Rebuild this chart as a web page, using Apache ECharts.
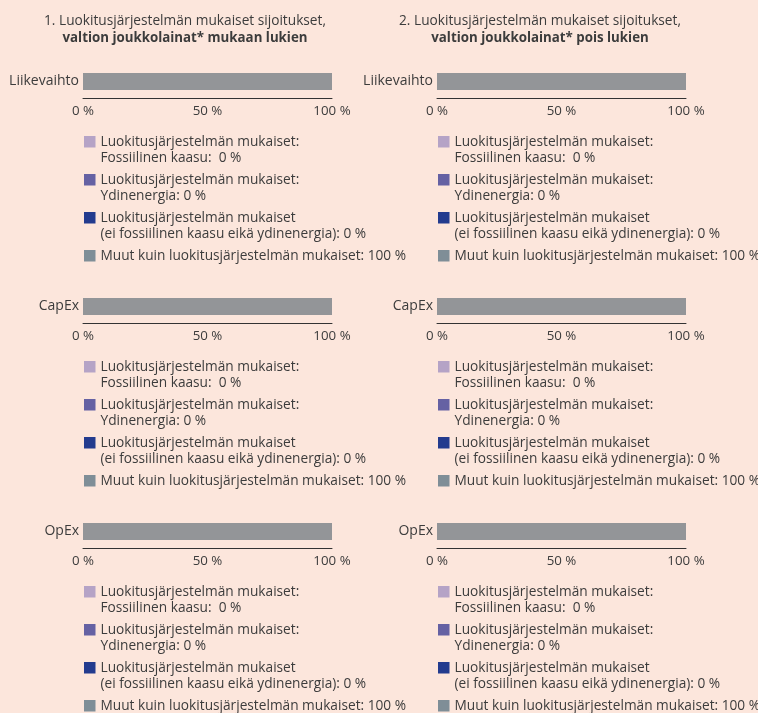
<!DOCTYPE html>
<html><head><meta charset="utf-8">
<script src="https://cdn.jsdelivr.net/npm/echarts@6/dist/echarts.min.js"></script>
<style>html,body{margin:0;padding:0;background:#fce6dc;}#c{width:758px;height:713px;}</style>
</head><body><div id="c"></div>
<script>
const panelTitles = ['1. Luokitusjärjestelmän mukaiset sijoitukset,', '2. Luokitusjärjestelmän mukaiset sijoitukset,'];
const panelSubtitles = ['valtion joukkolainat* mukaan lukien', 'valtion joukkolainat* pois lukien'];
const kpis = ['Liikevaihto', 'CapEx', 'OpEx'];
const xTicks = [0, 50, 100];
// panel 1: including sovereign bonds
const fossilGasIncl = [0, 0, 0];
const nuclearIncl = [0, 0, 0];
const otherAlignedIncl = [0, 0, 0];
const notAlignedIncl = [100, 100, 100];
// panel 2: excluding sovereign bonds
const fossilGasExcl = [0, 0, 0];
const nuclearExcl = [0, 0, 0];
const otherAlignedExcl = [0, 0, 0];
const notAlignedExcl = [100, 100, 100];
const seriesLabels = [
  ['Luokitusjärjestelmän mukaiset:', 'Fossiilinen kaasu:  '],
  ['Luokitusjärjestelmän mukaiset:', 'Ydinenergia: '],
  ['Luokitusjärjestelmän mukaiset', '(ei fossiilinen kaasu eikä ydinenergia): '],
  ['', 'Muut kuin luokitusjärjestelmän mukaiset: ']
];

const barColors = ['#b5a3c6', '#6561a3', '#233b8e', '#939598'];
const legendColors = ['#b5a3c6', '#6561a3', '#233b8e', '#7f8e97'];
const panelData = [
  [fossilGasIncl, nuclearIncl, otherAlignedIncl, notAlignedIncl],
  [fossilGasExcl, nuclearExcl, otherAlignedExcl, notAlignedExcl]
];
const panelLeft = [83, 437];
const titleCenter = [185, 540];
const rowStep = 225;
const font = 'Open Sans';
const textColor = '#3c3c3c';

const grids = [], xAxes = [], yAxes = [], series = [], legends = [], titles = [];
const nameText = {};
const iconPath = 'path://M0,2 L11.5,2 L11.5,13.5 L0,13.5 Z M0,0 L0.01,0 L0.01,0.01 Z M0,32 L0.01,32 L0.01,31.99 Z';

for (let p = 0; p < 2; p++) {
  titles.push({
    text: panelTitles[p] + '\n{b|' + panelSubtitles[p] + '}',
    left: titleCenter[p],
    top: 13,
    padding: 0,
    textAlign: 'center',
    textStyle: {fontFamily: font, fontSize: 13.7, fontWeight: 'normal', color: textColor, lineHeight: 17,
      rich: {b: {fontFamily: font, fontSize: 13.3, fontWeight: 'bold', color: textColor, lineHeight: 17}}}
  });
  for (let r = 0; r < 3; r++) {
    const gi = grids.length;
    grids.push({left: panelLeft[p], width: 249, top: 65 + r * rowStep, height: 33, containLabel: false});
    xAxes.push({
      type: 'value', gridIndex: gi, min: xTicks[0], max: xTicks[xTicks.length - 1], interval: xTicks[1] - xTicks[0],
      axisLine: {show: true, lineStyle: {color: '#333', width: 1}},
      axisTick: {show: false}, splitLine: {show: false},
      axisLabel: {formatter: '{value} %', fontFamily: font, fontSize: 13.3, color: textColor, margin: 7}
    });
    yAxes.push({
      type: 'category', gridIndex: gi, data: [kpis[r]],
      axisLine: {show: false}, axisTick: {show: false},
      axisLabel: {fontFamily: font, fontSize: 14, color: textColor, margin: 4}
    });
    const legendData = [];
    for (let s = 0; s < 4; s++) {
      const name = 's' + p + r + s;
      const v = panelData[p][s][r];
      const lab = seriesLabels[s];
      nameText[name] = lab[0] ? lab[0] + '\n' + lab[1] + v + ' %' : lab[1] + v + ' %\n ';
      series.push({
        type: 'bar', name: name, xAxisIndex: gi, yAxisIndex: gi, stack: 'st' + gi,
        data: [v], barWidth: 17, itemStyle: {color: barColors[s]}, silent: true
      });
      legendData.push({name: name, icon: iconPath, itemStyle: {color: legendColors[s]}});
    }
    legends.push({
      orient: 'vertical', left: panelLeft[p] + 1, top: 134 + r * rowStep, padding: 0, height: 200,
      itemWidth: 11.5, itemHeight: 32, itemGap: 6, selectedMode: false,
      data: legendData,
      formatter: n => nameText[n],
      textStyle: {fontFamily: font, fontSize: 13.7, color: textColor, lineHeight: 16}
    });
  }
}

const chart = echarts.init(document.getElementById('c'));
chart.setOption({
  backgroundColor: '#fce6dc',
  animation: false,
  title: titles,
  grid: grids, xAxis: xAxes, yAxis: yAxes, series: series, legend: legends
});
</script></body></html>
